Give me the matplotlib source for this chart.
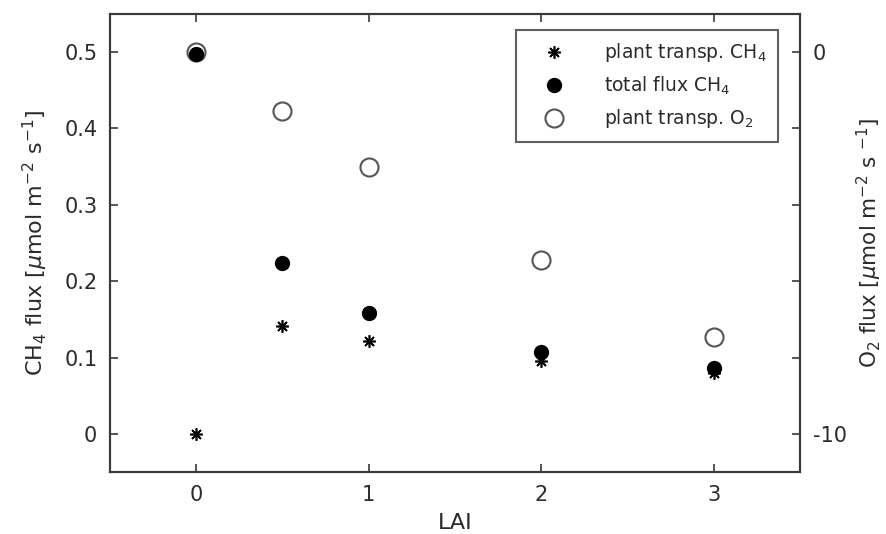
import matplotlib.pyplot as plt

# LAI values
lai = [0, 0.5, 1, 2, 3]
# CH4 flux [umol m-2 s-1]
ch4_plant = [0.0, 0.141, 0.121, 0.095, 0.080]
ch4_total = [0.497, 0.224, 0.158, 0.107, 0.086]
# O2 flux [umol m-2 s-1]
o2_plant = [0.0, -1.55, -3.0, -5.45, -7.45]

left_ticks = [0, 0.1, 0.2, 0.3, 0.4, 0.5]
left_labels = ['0', '0.1', '0.2', '0.3', '0.4', '0.5']
right_ticks = [-10, -8, -6, -4, -2, 0]
right_labels = ['-10', '', '', '', '', '0']

plt.rcParams['font.family'] = 'DejaVu Sans'
txt = '#2b2b2b'
spine = '#3a3a3a'

fig = plt.figure(figsize=(8.86, 5.34), dpi=100)
ax = fig.add_axes([0.124, 0.116, 0.779, 0.858])
ax2 = ax.twinx()

h1, = ax.plot(lai, ch4_plant, linestyle='none', marker=(8, 2, 0), markersize=9,
              color='black', markeredgewidth=1.2, label='plant transp. CH$_4$')
h3, = ax2.plot(lai, o2_plant, linestyle='none', marker='o', markersize=13,
               markerfacecolor='none', markeredgecolor='#555555', markeredgewidth=1.5,
               label='plant transp. O$_2$')
# filled dots drawn on top of the open circles
ax2.set_zorder(0)
ax.set_zorder(1)
ax.patch.set_visible(False)
h2, = ax.plot(lai, ch4_total, linestyle='none', marker='o', markersize=10,
              color='black', label='total flux CH$_4$')

ax.set_xlim(-0.5, 3.5)
ax.set_ylim(-0.05, 0.55)
ax2.set_ylim(-11, 1)

ax.set_xticks([0, 1, 2, 3])
ax.set_yticks(left_ticks)
ax.set_yticklabels(left_labels)
ax2.set_yticks(right_ticks)
ax2.set_yticklabels(right_labels)

ax.tick_params(direction='in', top=True, length=6, width=1.2, colors=spine,
               labelcolor=txt, labelsize=15, pad=9)
ax2.tick_params(direction='in', length=6, width=1.2, colors=spine,
                labelcolor=txt, labelsize=15, pad=9)

for a in (ax, ax2):
    for s in a.spines.values():
        s.set_color(spine)
        s.set_linewidth(1.5)

ax.set_xlabel('LAI', fontsize=16, color=txt, labelpad=6)
ax.set_ylabel(r'CH$_4$ flux [$\mu$mol m$^{-2}$ s$^{-1}$]', fontsize=16, color=txt, labelpad=10)
ax2.set_ylabel(r'O$_2$ flux [$\mu$mol m$^{-2}$ s $^{-1}$]', fontsize=15.5, color=txt, labelpad=6)

leg = ax.legend(handles=[h1, h2, h3], loc='upper right', fontsize=13.5,
                frameon=True, fancybox=False, edgecolor=spine, borderpad=0.6,
                handletextpad=1.3, labelspacing=0.55, handlelength=2.8,
                bbox_to_anchor=(0.982, 0.985))
leg.get_frame().set_linewidth(1.5)
for t in leg.get_texts():
    t.set_color(txt)

fig.savefig('out.png', dpi=100)
